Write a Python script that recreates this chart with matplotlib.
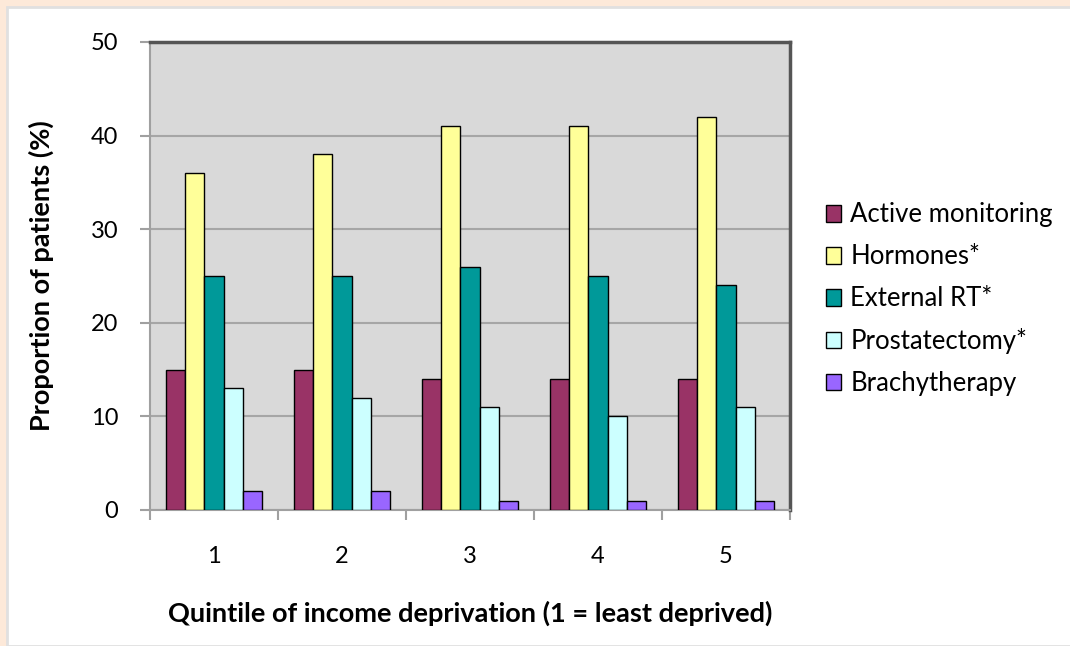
import numpy as np
import matplotlib.pyplot as plt
from matplotlib import patches

# data
quintiles = ["1", "2", "3", "4", "5"]
active_monitoring = [15, 15, 14, 14, 14]
hormones = [36, 38, 41, 41, 42]
external_rt = [25, 25, 26, 25, 24]
prostatectomy = [13, 12, 11, 10, 11]
brachytherapy = [2, 2, 1, 1, 1]

series_names = ["Active monitoring", "Hormones*", "External RT*",
                "Prostatectomy*", "Brachytherapy"]
series_vals = [active_monitoring, hormones, external_rt, prostatectomy, brachytherapy]
series_cols = ["#993366", "#FFFF99", "#009999", "#CCFFFF", "#9966FF"]

plt.rcParams['font.family'] = ['Lato', 'DejaVu Sans']

fig = plt.figure(figsize=(10.7, 6.46), dpi=100)
fig.patch.set_facecolor("#FDE9D9")
# white inner panel
fig.add_artist(patches.Rectangle((7 / 1070, 0), 1, 1 - 7 / 646, transform=fig.transFigure,
                                 facecolor="white", edgecolor="#E0E0E0", lw=2, zorder=0))

ax = fig.add_axes([150 / 1070, 1 - 510 / 646, 640 / 1070, 468 / 646])
ax.set_facecolor("#D9D9D9")

x = np.arange(len(quintiles))
w = 0.15
for i, (name, vals, col) in enumerate(zip(series_names, series_vals, series_cols)):
    ax.bar(x + (i - 2) * w, vals, w, color=col, edgecolor="black", lw=1.0,
           label=name, zorder=3)

ax.set_xlim(-0.5, 4.5)
ax.set_ylim(0, 50)
ax.set_yticks(range(0, 51, 10))
ax.yaxis.grid(True, color="#A6A6A6", lw=1.5, zorder=0)

ax.set_xticks(x)
ax.set_xticklabels(quintiles)
ax.set_xticks(np.arange(-0.5, 5, 1), minor=True)
ax.tick_params(axis="x", which="major", length=0, pad=26, labelsize=17)
ax.tick_params(axis="x", which="minor", length=7, color="#A0A0A0", width=1.5)
ax.tick_params(axis="y", length=7, color="#A0A0A0", width=1.5, labelsize=17, pad=16)

for side in ["left", "bottom"]:
    ax.spines[side].set_color("#A0A0A0")
    ax.spines[side].set_linewidth(1.5)
for side in ["top", "right"]:
    ax.spines[side].set_color("#555555")
    ax.spines[side].set_linewidth(2.5)

ax.set_ylabel("Proportion of patients (%)", fontsize=19.5, fontweight="bold", labelpad=26)
ax.set_xlabel("Quintile of income deprivation (1 = least deprived)", fontsize=19.5,
              fontweight="bold", labelpad=24)

ax.legend(loc="center left", bbox_to_anchor=(1.02, 0.45), frameon=False, fontsize=18.5,
          handlelength=0.6, handleheight=0.6, handletextpad=0.35, labelspacing=0.66)

fig.savefig("out.png", dpi=100, facecolor=fig.get_facecolor())
